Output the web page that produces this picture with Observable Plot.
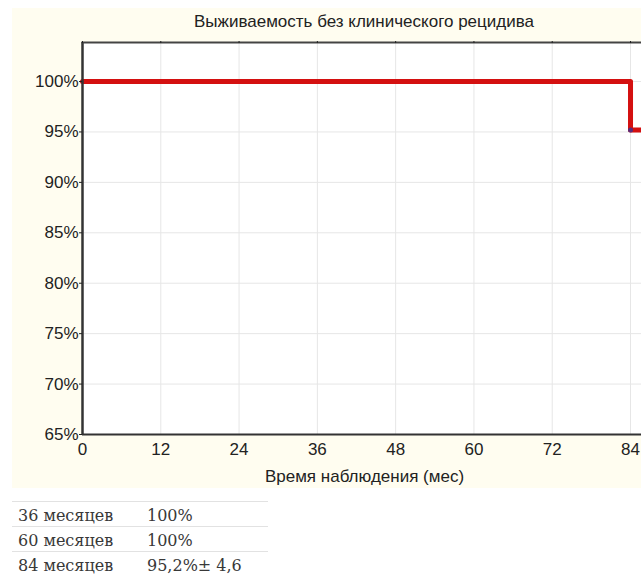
<!DOCTYPE html>
<html><head><meta charset="utf-8">
<script src="https://cdn.jsdelivr.net/npm/d3@7"></script>
<script src="https://cdn.jsdelivr.net/npm/@observablehq/plot@0.6"></script>
<style>
html,body{margin:0;padding:0;background:#fff;overflow:hidden;width:641px;height:586px;}
#bg{position:absolute;left:12px;top:8px;width:629px;height:480px;background:#fffdf0;}
#chart{position:absolute;left:0;top:0;width:700px;}
#chart svg{max-width:none !important;}
#title{position:absolute;top:12px;left:82px;width:564px;text-align:center;font:17px "Liberation Sans",Arial,sans-serif;color:#222;white-space:nowrap;}
#tbl{position:absolute;left:12px;top:501px;width:256px;border-collapse:collapse;table-layout:fixed;font:16px "DejaVu Serif","Liberation Serif",serif;color:#383838;}
#tbl td{border-top:1px solid #e2e2e2;height:24px;padding:0 0 0 6px;vertical-align:bottom;line-height:20px;white-space:nowrap;}
#tbl td.l{width:129px;}
#tbl td.v{padding-left:0;}
</style></head>
<body>
<div id="bg"></div>
<div id="chart"></div>
<div id="title">Выживаемость без клинического рецидива</div>
<table id="tbl"></table>
<script>
const months = [0, 84, 86.4];
const survival = [100, 95.2, 95.2];
const censorMonths = [84];
const censorSurvival = [95.2];
const xTicks = [0, 12, 24, 36, 48, 60, 72, 84];
const yTicks = [65, 70, 75, 80, 85, 90, 95, 100];
const tableLabels = ["36 месяцев", "60 месяцев", "84 месяцев"];
const tableValues = ["100%", "100%", "95,2%± 4,6"];

const data = months.map((m, i) => ({m, s: survival[i]}));
const censor = censorMonths.map((m, i) => ({m, s: censorSurvival[i]}));

const plot = Plot.plot({
  width: 700, height: 488,
  marginLeft: 82, marginRight: 54, marginTop: 42, marginBottom: 54,
  style: {background: "transparent", fontFamily: "'Liberation Sans', Arial, sans-serif", fontSize: "17px", color: "#222", maxWidth: "none"},
  x: {domain: [0, 86.45]},
  y: {domain: [65, 103.87]},
  marks: [
    Plot.frame({fill: "white", stroke: "none"}),
    Plot.gridX(xTicks, {stroke: "#e6e6e6", strokeOpacity: 1}),
    Plot.gridY(yTicks, {stroke: "#e6e6e6", strokeOpacity: 1}),
    Plot.line(data, {x: "m", y: "s", curve: "step-after", stroke: "#d41010", strokeWidth: 5}),
    Plot.dot(censor, {x: "m", y: "s", r: 2.5, fill: "#5a2a78", stroke: "none"}),
    Plot.ruleX([0], {stroke: "#333", strokeWidth: 2.5}),
    Plot.ruleY([65], {stroke: "#333", strokeWidth: 2}),
    Plot.frame({anchor: "top", stroke: "#444", strokeWidth: 2}),
    Plot.axisY(yTicks, {tickFormat: d => d + "%", tickSize: 3, tickPadding: 1, fontSize: 17, label: null}),
    Plot.axisX(xTicks, {tickSize: 0, tickPadding: 8, fontSize: 17, label: null}),
    Plot.axisX(xTicks, {anchor: "top", tickSize: 2, text: null, label: null}),
    Plot.text(["Время наблюдения (мес)"], {frameAnchor: "bottom", dy: 47, fontSize: 17, fill: "#222"})
  ]
});
document.getElementById("chart").appendChild(plot);

const tbl = document.getElementById("tbl");
tableLabels.forEach((l, i) => {
  const tr = document.createElement("tr");
  tr.innerHTML = `<td class="l">${l}</td><td class="v">${tableValues[i]}</td>`;
  tbl.appendChild(tr);
});
</script>
</body></html>
